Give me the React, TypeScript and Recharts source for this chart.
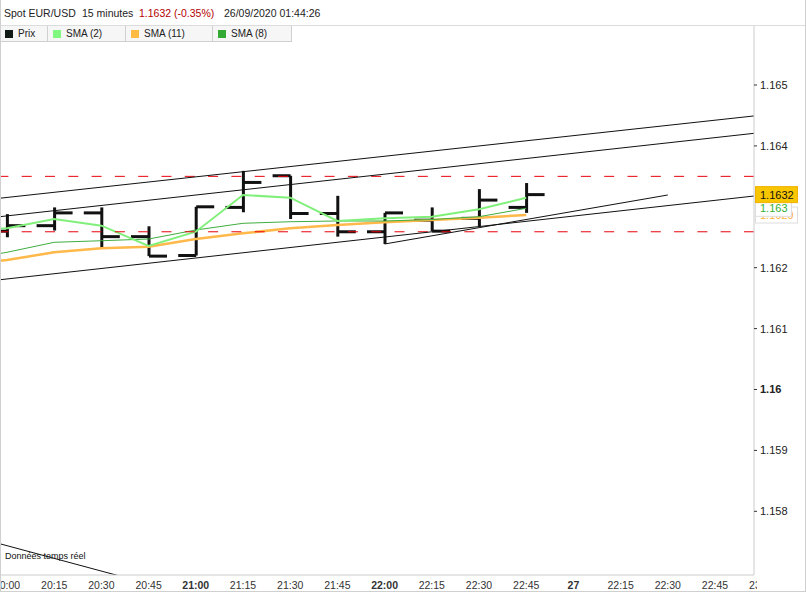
import React from 'react';
import { ComposedChart, XAxis, YAxis, Bar, Line, ReferenceLine } from 'recharts';

// ---------- data ----------
const timeLabels = ['20:00', '20:15', '20:30', '20:45', '21:00', '21:15', '21:30', '21:45', '22:00', '22:15', '22:30', '22:45', '27', '22:15', '22:30', '22:45', '23:00'];
const boldLabels = ['21:00', '22:00', '27'];
const opens = [1.1626, 1.16269, 1.1629, 1.16251, 1.1622, 1.16299, 1.16351, 1.16289, 1.16259, 1.16278, 1.16281, 1.16299];
const highs = [1.16288, 1.16299, 1.16299, 1.16268, 1.163, 1.16359, 1.16351, 1.16318, 1.1629, 1.16299, 1.16329, 1.16339];
const lows = [1.1625, 1.16261, 1.16232, 1.16219, 1.1622, 1.16291, 1.1628, 1.16251, 1.16239, 1.1626, 1.16268, 1.1629];
const closes = [1.16269, 1.1629, 1.16251, 1.16219, 1.163, 1.1634, 1.16289, 1.16259, 1.1629, 1.1626, 1.16311, 1.1632];
// moving averages; first entry is the bar before 20:00 (off the left edge)
const sma2 = [1.16263, 1.162647, 1.1628, 1.16269, 1.162356, 1.162591, 1.163194, 1.163149, 1.162767, 1.162811, 1.162837, 1.162959, 1.163149];
const sma11 = [1.16204, 1.162126, 1.162253, 1.162319, 1.162345, 1.162471, 1.162565, 1.162647, 1.162701, 1.162745, 1.162783, 1.162821, 1.162865];
const sma8 = [1.16212, 1.162253, 1.162417, 1.162443, 1.162471, 1.162619, 1.162729, 1.162755, 1.162767, 1.162767, 1.162791, 1.162837, 1.162975];
const yTicks = [1.158, 1.159, 1.16, 1.161, 1.162, 1.164, 1.165];
const dashedLevels = [1.1635, 1.16259];
const trendLines: [number, number][][] = [
  [[-1, 1.163069], [17, 1.164591]],
  [[-1, 1.162765], [17, 1.164307]],
  [[-1, 1.161729], [17, 1.163278]],
  [[8, 1.162389], [14, 1.163194]],
  [[-1, 1.157644], [3, 1.15681]],
];
const tagValues = [1.162865, 1.162975, 1.1632];
const tagTexts = ['1.1629', '1.163', '1.1632'];
const legendNames = ['Prix', 'SMA (2)', 'SMA (11)', 'SMA (8)'];
const headerParts = ['Spot EUR/USD', '15 minutes', '1.1632 (-0.35%)', '26/09/2020 01:44:26'];

// ---------- styles ----------
const FONT = '"Liberation Sans", Arial, sans-serif';
const W = 806;
const H = 592;
const X_DOMAIN: [number, number] = [-0.1483, 15.8263];
const Y_DOMAIN: [number, number] = [1.156954, 1.1659688];
const legendColors = ['#111a14', '#80f880', '#ffbb44', '#33aa33'];
const legendWidths = [48, 78, 87, 79];
const headerLefts = [4, 82, 139, 224];
const headerColors = ['#222', '#222', '#b40000', '#222'];
const tagStyles = [
  { fill: '#ffffff', stroke: '#dddddd', color: '#ffb23c', w: 42 },
  { fill: '#ffffff', stroke: '#dddddd', color: '#33b033', w: 36 },
  { fill: '#f7c600', stroke: '#f0b000', color: '#111111', w: 42 },
];

const data = sma2.map((_, k) => {
  const i = k - 1;
  const has = i >= 0;
  return {
    x: i,
    range: has ? [lows[i], highs[i]] : null,
    open: has ? opens[i] : null,
    high: has ? highs[i] : null,
    low: has ? lows[i] : null,
    close: has ? closes[i] : null,
    sma2: sma2[k],
    sma11: sma11[k],
    sma8: sma8[k],
  };
});

const OhlcShape = (props: any) => {
  const { x, y, width, height, payload } = props;
  if (x == null || y == null || !payload || payload.high == null) return null;
  const cx = x + width / 2;
  const top = Math.min(y, y + height);
  const h = Math.abs(height);
  const span = payload.high - payload.low;
  const py = (v: number) => (span > 0 ? top + ((payload.high - v) / span) * h : top);
  const yo = py(payload.open);
  const yc = py(payload.close);
  return (
    <g stroke="#111" strokeWidth={3}>
      <line x1={cx} x2={cx} y1={top} y2={top + h} />
      <line x1={cx - 18} x2={cx} y1={yo} y2={yo} />
      <line x1={cx} x2={cx + 18} y1={yc} y2={yc} />
    </g>
  );
};

const XTick = (props: any) => {
  const { x, y, payload, index } = props;
  const label = timeLabels[payload.value] ?? '';
  const id = `xclip-${index}`;
  return (
    <g>
      <defs>
        <clipPath id={id}>
          <rect x={-20} y={y - 5} width={777} height={30} />
        </clipPath>
      </defs>
      <text
        x={x}
        y={y + 12}
        textAnchor="middle"
        fontSize={10.5}
        fontFamily={FONT}
        fill="#333"
        fontWeight={boldLabels.includes(label) ? 'bold' : 'normal'}
        clipPath={`url(#${id})`}
      >
        {label}
      </text>
    </g>
  );
};

const fmtY = (v: number) => String(Number(v.toFixed(3)));

const YTick = (props: any) => {
  const { x, y, payload } = props;
  const s = fmtY(payload.value);
  return (
    <text x={x} y={y} dy={4} textAnchor="start" fontSize={11} fontFamily={FONT} fill="#222" fontWeight={s === '1.16' ? 'bold' : 'normal'}>
      {s}
    </text>
  );
};

const makeTag = (i: number) => (p: any) => {
  const vb = p.viewBox;
  if (!vb) return null;
  const st = tagStyles[i];
  const x0 = vb.x + vb.width + 1;
  const cy = vb.y;
  return (
    <g>
      <rect x={x0 + 0.5} y={cy - 8} width={st.w} height={16} fill={st.fill} stroke={st.stroke} />
      <text x={x0 + 5} y={cy} dy={4} fontSize={11} fontFamily={FONT} fill={st.color}>
        {tagTexts[i]}
      </text>
    </g>
  );
};

export default function App() {
  const xTicks = timeLabels.map((_, i) => i);
  return (
    <div style={{ position: 'absolute', left: 0, top: 0, width: W, height: H, background: '#fff', fontFamily: FONT, overflow: 'hidden' }}>
      <ComposedChart width={W} height={H} data={data} margin={{ top: 26, right: 0, bottom: 0, left: 0 }}>
        <XAxis
          type="number"
          dataKey="x"
          domain={X_DOMAIN}
          allowDataOverflow
          ticks={xTicks}
          interval={0}
          tick={<XTick />}
          tickLine={false}
          tickSize={0}
          axisLine={{ stroke: '#cccccc' }}
          height={17}
        />
        <YAxis
          orientation="right"
          type="number"
          domain={Y_DOMAIN}
          allowDataOverflow
          ticks={yTicks}
          interval={0}
          width={52}
          tick={<YTick />}
          tickLine={{ stroke: '#333' }}
          tickSize={3}
          tickMargin={3}
          axisLine={{ stroke: '#cccccc' }}
        />
        <Bar dataKey="range" barSize={36} shape={OhlcShape} isAnimationActive={false} />
        <Line type="linear" dataKey="sma11" stroke="#ffb84a" strokeWidth={2.5} dot={false} isAnimationActive={false} />
        <Line type="linear" dataKey="sma8" stroke="#3fae3f" strokeWidth={1} dot={false} isAnimationActive={false} />
        <Line type="linear" dataKey="sma2" stroke="#80f07a" strokeWidth={2} dot={false} isAnimationActive={false} />
        {dashedLevels.map((v, i) => (
          <ReferenceLine key={`d${i}`} y={v} stroke="#e8000b" strokeDasharray="10 13.3" strokeWidth={1} ifOverflow="hidden" />
        ))}
        {trendLines.map((seg, i) => (
          <ReferenceLine
            key={`t${i}`}
            segment={[{ x: seg[0][0], y: seg[0][1] }, { x: seg[1][0], y: seg[1][1] }]}
            stroke="#111"
            strokeWidth={1}
            ifOverflow="hidden"
          />
        ))}
        {tagValues.map((v, i) => (
          <ReferenceLine key={`g${i}`} y={v} stroke="none" ifOverflow="visible" label={makeTag(i)} />
        ))}
      </ComposedChart>

      {/* header */}
      <div style={{ position: 'absolute', left: 0, top: 0, width: W, height: 25, borderBottom: '1px solid #dcdcdc', background: '#fff', boxSizing: 'content-box' }}>
        {headerParts.map((t, i) => (
          <span key={i} style={{ position: 'absolute', left: headerLefts[i], top: 7, fontSize: 10.5, color: headerColors[i], whiteSpace: 'nowrap' }}>
            {t}
          </span>
        ))}
      </div>

      {/* legend */}
      <div style={{ position: 'absolute', left: 0, top: 26, height: 17, display: 'flex' }}>
        {legendNames.map((n, i) => (
          <div
            key={n}
            style={{
              width: legendWidths[i],
              height: 16,
              boxSizing: 'border-box',
              borderRight: '1px solid #d0d0d0',
              borderBottom: '1px solid #d0d0d0',
              background: '#f6f6f6',
              display: 'flex',
              alignItems: 'center',
              fontSize: 10,
              color: '#222',
            }}
          >
            <span style={{ display: 'inline-block', width: 8, height: 8, background: legendColors[i], marginLeft: 5, marginRight: 5 }} />
            <span>{n}</span>
          </div>
        ))}
      </div>

      {/* real-time note */}
      <div style={{ position: 'absolute', left: 5, top: 551, fontSize: 9, color: '#111', whiteSpace: 'nowrap' }}>Données temps réel</div>

      {/* frame */}
      <div style={{ position: 'absolute', left: 0, top: 0, width: 1, height: H, background: '#d0d0d0' }} />
      <div style={{ position: 'absolute', left: W - 1, top: 0, width: 1, height: H, background: '#d0d0d0' }} />
      <div style={{ position: 'absolute', left: 0, top: H - 1, width: W, height: 1, background: '#d0d0d0' }} />
    </div>
  );
}
